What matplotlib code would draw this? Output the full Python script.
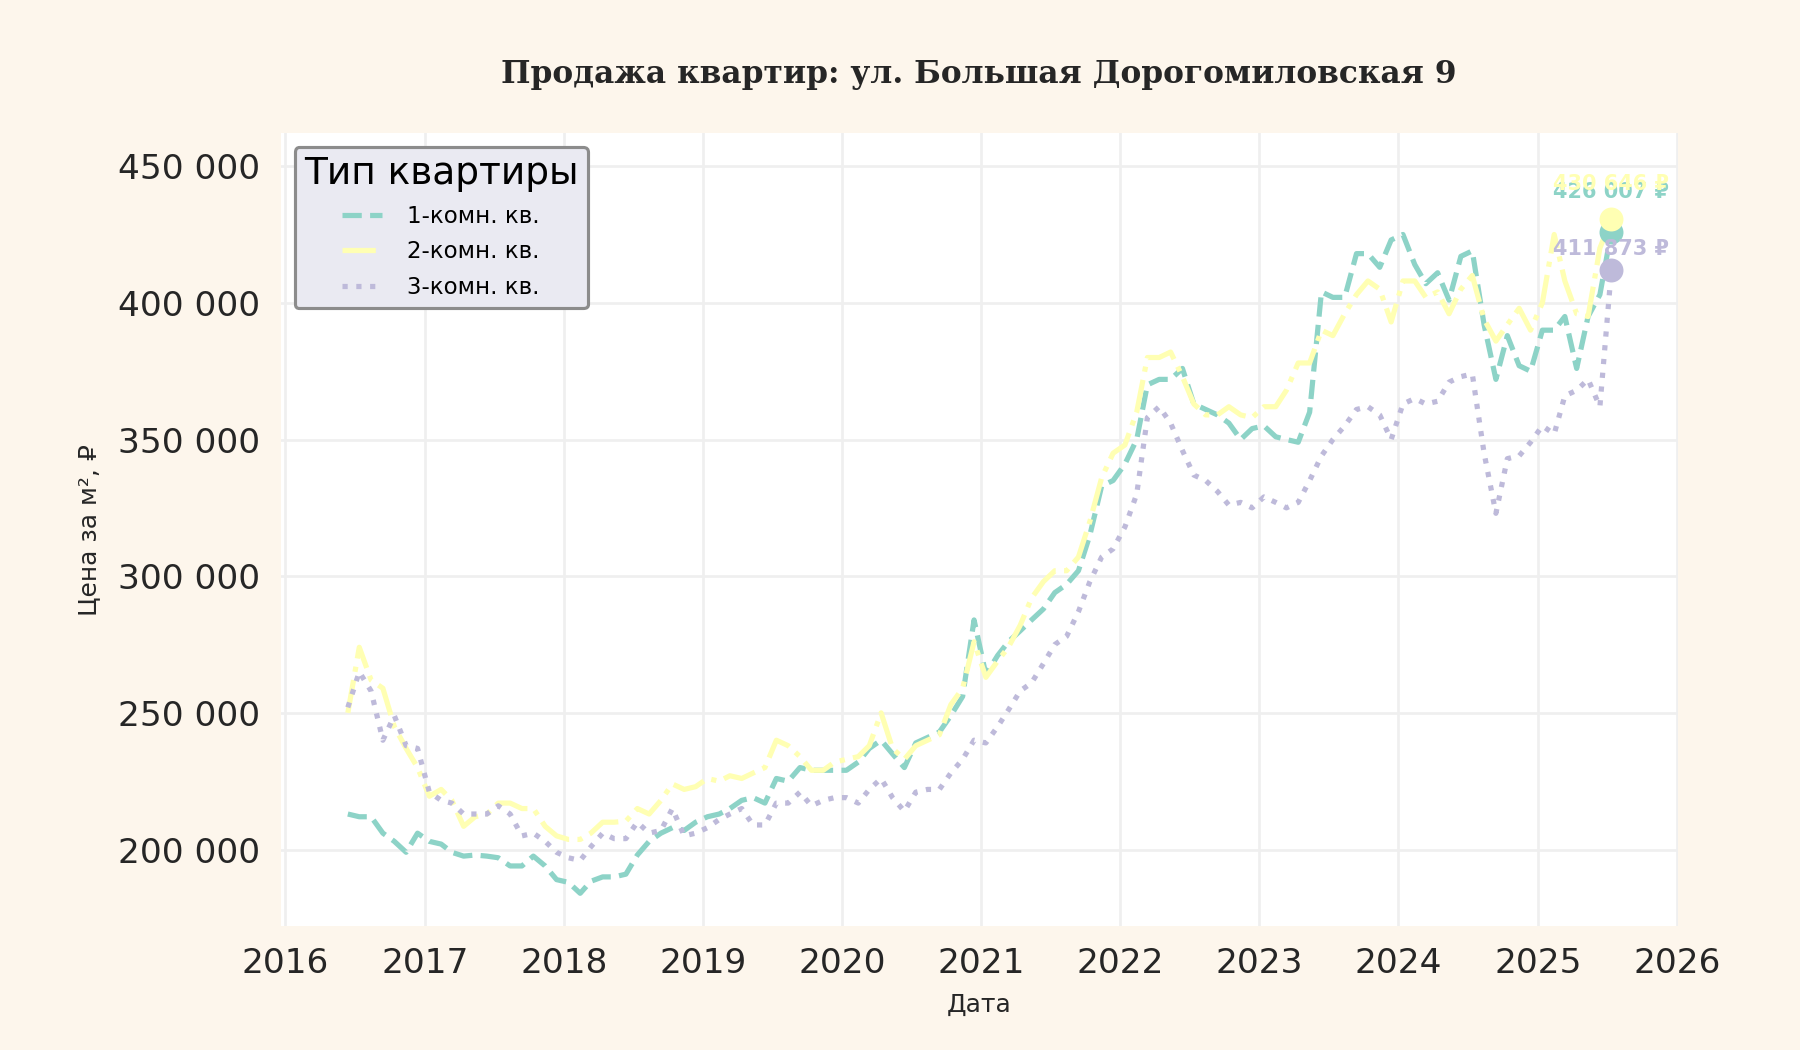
import numpy as np
import pandas as pd
import matplotlib
matplotlib.use('Agg')
import matplotlib.pyplot as plt
import matplotlib.dates as mdates
from matplotlib.ticker import FuncFormatter

# monthly points, Jun 2016 - Jul 2025 (thousand rub per m2, last point exact)
dates = pd.date_range("2016-06-01", "2025-07-01", freq="MS") + pd.Timedelta(days=12)

one_room = [213, 212, 212, 206, 203, 199, 206,
            203, 202, 199, 197.6, 198, 197.6, 197, 194, 194, 197.6, 194, 189,
            188, 184, 188.4, 190, 190, 191, 198, 203, 206, 208, 207, 210,
            212, 213, 215, 218, 219, 217, 226, 225, 230, 229, 229, 229,
            229, 232, 237, 240, 235, 230, 239, 241, 243, 249, 256, 284,
            264, 271, 276, 280, 284, 288, 294, 297, 302, 315, 333, 335,
            341, 350, 370, 372, 372, 376, 363, 361, 359, 356, 350, 354,
            355, 351, 350, 349, 360, 404, 402, 402, 418, 418, 413, 423,
            425, 414, 407, 411, 401, 417, 419, 392, 372, 388, 377, 375,
            390, 390, 395, 376, 395, 403, 426.007]
two_room = [250, 274, 262, 259, 245, 237, 230,
            219.5, 222, 218, 208.5, 212, 213, 217, 217, 215, 215, 208.5, 205,
            203.7, 203.7, 206, 210, 210, 210.4, 215, 213, 218, 224, 222, 223,
            226, 225, 227, 226, 228, 230, 240, 238, 234, 229, 229, 232,
            233, 234, 238, 250, 237, 233, 238, 240, 242, 253, 259, 276,
            263, 269, 274, 282, 292, 298, 302, 302, 307, 320, 336, 345,
            348, 360, 380, 380, 382, 373, 363, 359, 359, 362, 359, 358,
            362, 362, 368, 378, 378, 390, 388, 396, 403, 408, 405, 393,
            408, 408, 402, 404, 396, 405, 410, 394, 386, 392, 398, 390,
            400, 425, 408, 396, 395, 420, 430.646]
three_room = [252, 265, 258, 240, 249, 238, 237,
              221, 218, 217, 213, 213, 213, 216, 213, 205, 206, 203, 199,
              197, 196, 201, 206, 204, 204, 210, 206, 207, 215, 205, 206,
              208, 211, 213, 215, 209, 209, 217, 217, 221, 216, 218, 219,
              219, 217, 222, 226, 219, 214, 221, 222, 222, 228, 233, 240,
              239, 245, 251, 258, 261, 268, 275, 278, 287, 298, 307, 310,
              318, 330, 358, 362, 356, 346, 337, 335, 331, 326, 327, 325,
              329, 327, 325, 327, 335, 344, 350, 355, 361, 362, 359, 350,
              363, 365, 363, 364, 371, 373, 374, 345, 323, 343, 344, 349,
              355, 352, 366, 368, 372, 362, 411.873]

labels = ["1-комн. кв.", "2-комн. кв.", "3-комн. кв."]
colors = ["#8dd3c7", "#ffffb3", "#bebada"]
styles = ["--", "-.", ":"]

def fmt_num(v):
    return f"{v:,.0f}".replace(",", " ")

fig = plt.figure(figsize=(12, 7), dpi=150, facecolor="#fdf6ec")
ax = fig.add_axes([0.156, 0.118, 0.776, 0.755])
ax.set_facecolor("white")

series = [one_room, two_room, three_room]
for vals, lab, col, ls in zip(series, labels, colors, styles):
    y = np.array(vals) * 1000
    ax.plot(dates, y, ls, color=col, lw=2.5, label=lab)

# end markers + labels
offsets = [19, 17, 10.5]
for vals, col, off in zip(series, colors, offsets):
    last = vals[-1] * 1000
    ax.scatter([dates[-1]], [last], s=110, color=col, zorder=5)
    ax.annotate(fmt_num(last) + " ₽", (dates[-1], last), xytext=(0, off),
                textcoords="offset points", ha="center", va="center",
                fontsize=10, fontweight="bold", color=col, zorder=6)

ax.set_xlim(pd.Timestamp("2015-12-20"), pd.Timestamp("2026-01-03"))
ax.set_ylim(172000, 462000)
ax.xaxis.set_major_locator(mdates.YearLocator())
ax.xaxis.set_major_formatter(mdates.DateFormatter("%Y"))
ax.yaxis.set_major_formatter(FuncFormatter(lambda v, p: fmt_num(v)))

ax.grid(True, color="#efefef", lw=1.3)
ax.set_axisbelow(True)
for s in ax.spines.values():
    s.set_visible(False)
ax.tick_params(axis="both", length=0, labelsize=16.5, pad=10, labelcolor="#262626")

ax.set_title("Продажа квартир: ул. Большая Дорогомиловская 9", family="DejaVu Serif",
             fontweight="bold", fontsize=15, color="#262626", pad=24)
ax.set_xlabel("Дата", fontsize=12, color="#262626", labelpad=6)
ax.set_ylabel("Цена за м², ₽", fontsize=12, color="#262626", labelpad=8)

leg = ax.legend(title="Тип квартиры", loc="upper left", fontsize=11, title_fontsize=18,
                handlelength=1.75, handletextpad=1.1, labelspacing=0.55,
                borderaxespad=0.6, fancybox=True, framealpha=1)
leg.get_frame().set_facecolor("#eaeaf2")
leg.get_frame().set_edgecolor("#8c8c8c")
leg.get_frame().set_linewidth(1.5)

plt.savefig("out.png", dpi=150, facecolor=fig.get_facecolor())
